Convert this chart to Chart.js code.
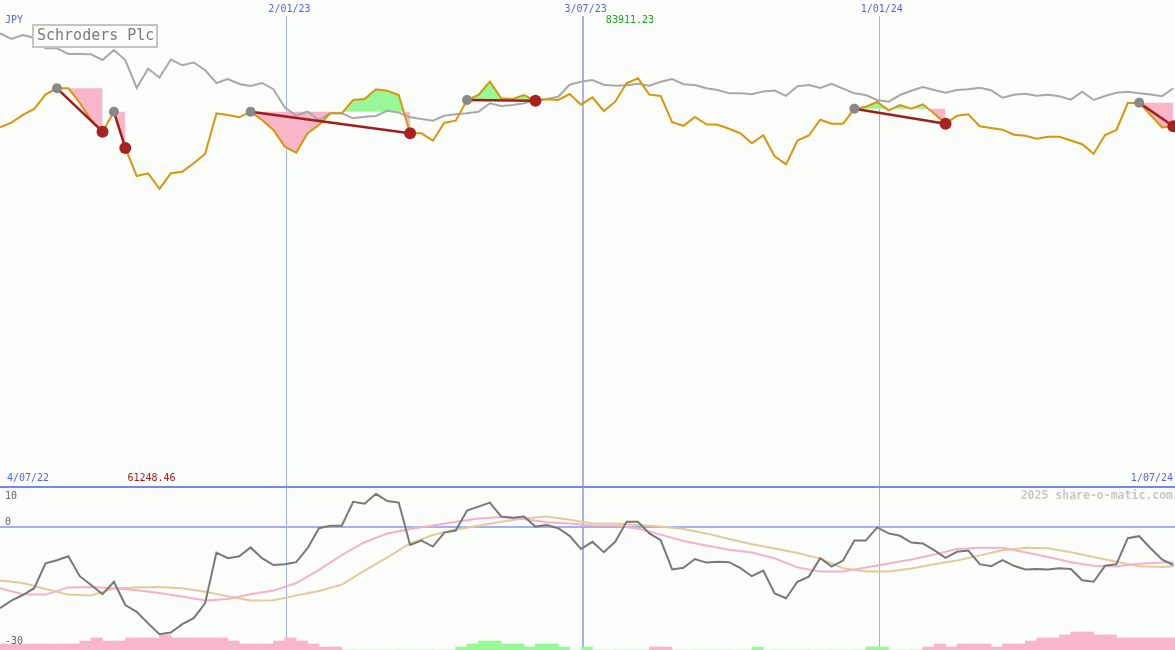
<!DOCTYPE html>
<html>
<head>
<meta charset="utf-8">
<title>Schroders Plc</title>
<script src="https://cdn.jsdelivr.net/npm/chart.js"></script>
<style>
  body { margin: 0; background: #fbfefb; }
  #wrap { position: relative; width: 1175px; height: 650px; }
</style>
</head>
<body>
<div id="wrap"><canvas id="myChart" width="1175" height="650"></canvas></div>
<script>
// weekly values, week 0 starts on 10 Jul 2022
var firstWeek = Date.UTC(2022, 6, 10);
var dateTicks = ['2/01/23', '3/07/23', '1/01/24'];
var startLabel = '4/07/22';
var endLabel = '1/07/24';

// share price (JPY)
var priceJPY = [
  73860, 74810, 76390, 77620, 80640, 81870, 81870, 78850, 75360, 72960,
  77060, 69610, 63860, 64420, 61248.46, 64420, 64740, 66470, 68380, 76740,
  76390, 75910, 77060, 75360, 73310, 69880, 68650, 72630, 74330, 76740,
  76740, 79470, 79670, 81660, 81380, 80490, 72630, 72630, 71110, 74810,
  75220, 79470, 80490, 83220, 79820, 79670, 80490, 79320, 79610, 79470,
  80700, 78500, 80020, 77210, 79120, 82900, 83911.23, 80560, 80290, 74890,
  74170, 75980, 74480, 74370, 73570, 72630, 70580, 72240, 67910, 66260,
  71150, 72180, 75420, 74600, 74600, 77660, 78090, 79060, 77350, 78440,
  77680, 78580, 76700, 74600, 76240, 76530, 74070, 73720, 73370, 72340,
  72120, 71520, 71910, 71910, 71150, 70390, 68440, 72280, 73310, 78850,
  78910, 76390, 73820, 74070
];

// market comparison line (grey)
var marketLine = [
  93160, 91990, 92810, 92260, 90080, 90080, 88910, 88910, 88850, 87680,
  89730, 87680, 81930, 85870, 84090, 87780, 86590, 87170, 85630, 82960,
  83780, 82750, 82340, 82960, 81680, 77930, 76280, 77060, 75360, 76740,
  76740, 75710, 76040, 76180, 77270, 76900, 75910, 75570, 75220, 76240,
  76530, 76740, 77060, 78790, 78240, 78440, 78790, 79470, 79670, 80140,
  82610, 83220, 83570, 82610, 82380, 82490, 82810, 82380, 83220, 83780,
  82710, 82550, 81870, 81520, 80840, 80840, 80640, 81210, 81420, 80330,
  82280, 82550, 81930, 82810, 81790, 80840, 80490, 79470, 79120, 80490,
  81360, 82140, 81520, 80970, 81520, 81680, 81970, 81460, 79920, 80530,
  80760, 80350, 80530, 80230, 79530, 81150, 79470, 80290, 80950, 81170,
  80840, 80600, 80250, 81870
];

// trades: week index of buy and sell
var tradeEntry = [5, 10, 22, 41, 75, 100];
var tradeExit = [9, 11, 36, 47, 83, 103];

// lower panel oscillator
var oscLine = [
  -20.3, -18.4, -17.0, -15.3, -9.1, -8.3, -7.3, -12.3, -14.5, -16.8,
  -13.7, -19.5, -21.2, -24.1, -26.8, -26.4, -24.3, -22.8, -19.1, -6.4,
  -7.8, -7.3, -5.1, -7.8, -9.5, -9.3, -8.8, -5.3, -0.3, 0.3,
  0.3, 6.3, 5.8, 8.3, 6.5, 6.1, -4.5, -3.4, -4.9, -1.4,
  -0.9, 4.1, 5.1, 6.1, 2.6, 2.3, 2.6, 0.1, 0.5, -0.3,
  -2.2, -5.5, -3.7, -6.3, -3.7, 1.3, 1.3, -1.6, -3.3, -10.6,
  -10.2, -8.0, -8.9, -8.7, -8.8, -10.3, -12.3, -10.9, -16.6, -17.8,
  -13.7, -12.4, -7.8, -9.9, -8.4, -3.4, -3.4, -0.1, -1.6, -2.2,
  -3.9, -4.1, -5.8, -7.7, -6.2, -5.9, -9.3, -9.8, -8.3, -9.7,
  -10.6, -10.5, -10.6, -10.3, -10.5, -13.3, -13.7, -9.7, -9.3, -2.8,
  -2.3, -5.3, -8.1, -9.5
];

// smoothed lines, read every second week
var smoothWeeks = [
  0, 2, 4, 6, 8, 10, 12, 14, 16, 18, 20, 22, 24, 26, 28, 30, 32, 34, 36, 38,
  40, 42, 44, 46, 48, 50, 52, 54, 56, 58, 60, 62, 64, 66, 68, 70, 72, 74, 76, 78,
  80, 82, 84, 86, 88, 90, 92, 94, 96, 98, 100, 102, 103
];
var pinkAvg = [
  -15.3, -16.8, -16.9, -15.1, -15.0, -15.3, -15.8, -16.5, -17.4, -18.4,
  -18.0, -16.8, -15.9, -14.0, -10.7, -7.0, -3.8, -1.6, -0.5, 0.4,
  1.3, 2.1, 2.5, 2.0, 1.2, 0.9, 0.4, 0.3, -0.4, -1.9,
  -3.5, -4.6, -5.7, -6.4, -7.8, -10.1, -11.1, -11.1, -10.1, -9.1,
  -8.1, -6.9, -5.5, -5.2, -5.2, -6.3, -7.5, -8.8, -9.7, -9.8,
  -9.2, -8.9, -8.9
];
var tanAvg = [
  -13.4, -14.0, -15.5, -16.9, -17.1, -15.4, -15.1, -15.0, -15.3, -16.2,
  -17.3, -18.4, -18.3, -17.1, -16.0, -14.4, -10.9, -7.6, -4.1, -2.0,
  -0.6, 0.3, 1.3, 2.1, 2.6, 1.8, 0.9, 0.9, 0.5, 0.1,
  -0.5, -1.6, -3.0, -4.3, -5.4, -6.5, -7.9, -10.3, -11.1, -11.1,
  -10.4, -9.3, -8.4, -7.1, -5.8, -5.2, -5.3, -6.3, -7.5, -8.7,
  -9.8, -10.0, -9.8
];

// bottom strip, negative = pink, positive = green
var barVals = [
  -2, -2, -2, -2, -2, -2, -2, -3, -4, -3,
  -3, -4, -4, -4, -5, -4, -4, -4, -4, -4,
  -3, -2, -2, -2, -3, -4, -3, -2, -1, -1,
  0, 0, 0, 0, 0, 0, 0, 0, 0, 0,
  1, 2, 3, 3, 2, 2, 1, 2, 2, 1,
  0, 1, 0, 0, 0, 0, 0, -1, -1, 0,
  0, 0, 0, 0, 0, 0, 1, 0, 0, 0,
  0, 0, 0, 0, 0, 0, 1, 1, 0, 0,
  0, -1, -2, -1, -2, -2, -2, -1, -2, -2,
  -3, -4, -4, -5, -6, -6, -5, -5, -4, -4,
  -4, -4, -4, -4
];

var PINK = '#f9b5c9';
var GREEN = '#98f898';
var BLUE_TXT = '#5064f0';
var MONO = '"DejaVu Sans Mono", "Liberation Mono", monospace';

function weekPos(label) {
  var p = label.split('/');
  var d = Date.UTC(2000 + parseInt(p[2]), parseInt(p[1]) - 1, parseInt(p[0]));
  return (d - firstWeek) / (7 * 864e5);
}

function pts(arr, xs) {
  return arr.map(function (v, i) { return { x: xs ? xs[i] : i, y: v }; });
}

var datasets = [];
datasets.push({
  data: pts(priceJPY), yAxisID: 'y', borderColor: '#d8960a', borderWidth: 2,
  pointRadius: 0, fill: false, order: 2
});
datasets.push({
  data: pts(marketLine), yAxisID: 'y', borderColor: '#a8a8a8', borderWidth: 2,
  pointRadius: 0, fill: false, order: 3
});

// profit / loss areas against the buy level
tradeEntry.forEach(function (e, t) {
  var lvl = [];
  for (var i = e; i <= tradeExit[t]; i++) lvl.push({ x: i, y: priceJPY[e] });
  datasets.push({
    data: lvl, yAxisID: 'y', borderColor: 'rgba(0,0,0,0)', borderWidth: 0,
    backgroundColor: PINK, pointRadius: 0,
    fill: { target: 0, above: PINK, below: GREEN }, order: 5
  });
});

// straight line from buy to sell
tradeEntry.forEach(function (e, t) {
  var s = tradeExit[t];
  datasets.push({
    data: [{ x: e, y: priceJPY[e] }, { x: s, y: priceJPY[s] }], yAxisID: 'y',
    borderColor: '#a11d1d', borderWidth: 2.5, pointRadius: 0, fill: false, order: 1
  });
});

datasets.push({
  data: tradeEntry.map(function (e) { return { x: e, y: priceJPY[e] }; }), yAxisID: 'y',
  showLine: false, pointRadius: 5, pointBackgroundColor: '#888888', pointBorderWidth: 0,
  order: 0, clip: false
});
datasets.push({
  data: tradeExit.map(function (e) { return { x: e, y: priceJPY[e] }; }), yAxisID: 'y',
  showLine: false, pointRadius: 6, pointBackgroundColor: '#a82222', pointBorderWidth: 0,
  order: 0, clip: false
});

datasets.push({
  data: pts(oscLine), yAxisID: 'y2', borderColor: '#787878', borderWidth: 2,
  pointRadius: 0, fill: false, order: 6
});
datasets.push({
  data: pts(pinkAvg, smoothWeeks), yAxisID: 'y2', borderColor: '#f8b0c8', borderWidth: 2,
  pointRadius: 0, fill: false, order: 7
});
datasets.push({
  data: pts(tanAvg, smoothWeeks), yAxisID: 'y2', borderColor: '#e2ca9c', borderWidth: 2,
  pointRadius: 0, fill: false, order: 8
});
datasets.push({
  type: 'bar',
  data: barVals.map(function (v, i) { return { x: i + 0.5, y: Math.abs(v) }; }),
  yAxisID: 'yb',
  backgroundColor: barVals.map(function (v) { return v < 0 ? PINK : GREEN; }),
  borderWidth: 0, barPercentage: 1, categoryPercentage: 1, order: 10
});

var decor = {
  id: 'decor',
  beforeDraw: function (chart) {
    var ctx = chart.ctx;
    ctx.save();
    ctx.fillStyle = '#fbfefb';
    ctx.fillRect(0, 0, chart.width, chart.height);
    ctx.restore();
  },
  beforeDatasetsDraw: function (chart) {
    var ctx = chart.ctx, x = chart.scales.x, y2 = chart.scales.y2;
    ctx.save();
    dateTicks.forEach(function (t, i) {
      var px = Math.round(x.getPixelForValue(weekPos(t)));
      ctx.strokeStyle = '#a4b0f2';
      ctx.lineWidth = i === 1 ? 2 : 1;
      ctx.beginPath();
      ctx.moveTo(i === 1 ? px : px + 0.5, 16);
      ctx.lineTo(i === 1 ? px : px + 0.5, chart.height);
      ctx.stroke();
    });
    ctx.lineWidth = 2;
    ctx.strokeStyle = '#7886ea';
    var sy = Math.round(y2.getPixelForValue(10));
    ctx.beginPath(); ctx.moveTo(0, sy); ctx.lineTo(chart.width, sy); ctx.stroke();
    ctx.strokeStyle = '#a4b0f2';
    var zy = Math.round(y2.getPixelForValue(0));
    ctx.beginPath(); ctx.moveTo(0, zy); ctx.lineTo(chart.width, zy); ctx.stroke();
    ctx.restore();
  },
  afterDatasetsDraw: function (chart) {
    var ctx = chart.ctx, x = chart.scales.x, y2 = chart.scales.y2;
    var sy = y2.getPixelForValue(10);
    ctx.save();
    ctx.textBaseline = 'middle';
    ctx.font = '10px ' + MONO;

    ctx.fillStyle = BLUE_TXT;
    ctx.textAlign = 'center';
    dateTicks.forEach(function (t) {
      ctx.fillText(t, x.getPixelForValue(weekPos(t)) + 3, 9);
    });
    ctx.textAlign = 'left';
    ctx.fillText('JPY', 5, 20);
    ctx.fillText(startLabel, 7, sy - 8.5);
    ctx.textAlign = 'right';
    ctx.fillText(endLabel, 1173, sy - 8.5);

    // max / min price labels
    var hi = priceJPY.indexOf(Math.max.apply(null, priceJPY));
    var lo = priceJPY.indexOf(Math.min.apply(null, priceJPY));
    ctx.textAlign = 'center';
    ctx.fillStyle = '#20a020';
    ctx.fillText(priceJPY[hi].toFixed(2), x.getPixelForValue(hi) - 8, 20);
    ctx.fillStyle = '#a01c1c';
    ctx.fillText(priceJPY[lo].toFixed(2), x.getPixelForValue(lo) - 8, sy - 8.5);

    // lower panel scale
    ctx.textAlign = 'left';
    ctx.fillStyle = '#666666';
    ctx.fillText('10', 5, y2.getPixelForValue(10) + 9);
    ctx.fillText('0', 5, y2.getPixelForValue(0) - 4.5);
    ctx.fillText('-30', 5, y2.getPixelForValue(-30) - 5.5);

    ctx.textAlign = 'right';
    ctx.fillStyle = '#c8c8c8';
    ctx.font = 'bold 11.5px ' + MONO;
    ctx.fillText('2025 share-o-matic.com', 1173, sy + 9);

    // name box
    ctx.fillStyle = '#fbfefb';
    ctx.fillRect(33, 25, 124, 22);
    ctx.strokeStyle = '#c4c4c4';
    ctx.lineWidth = 2;
    ctx.strokeRect(33, 25, 124, 22);
    ctx.fillStyle = '#7a7a7a';
    ctx.textAlign = 'left';
    ctx.font = '15px ' + MONO;
    ctx.fillText('Schroders Plc', 37, 36.5);
    ctx.restore();
  }
};

var ctx = document.getElementById('myChart').getContext('2d');
var chart = new Chart(ctx, {
  type: 'line',
  data: { datasets: datasets },
  options: {
    responsive: false,
    animation: false,
    events: [],
    devicePixelRatio: 1,
    layout: { padding: 0, autoPadding: false },
    elements: { line: { tension: 0 } },
    plugins: { legend: { display: false }, tooltip: { enabled: false } },
    scales: {
      x: { type: 'linear', min: 0, max: weekPos(endLabel), offset: false, display: false },
      y: { min: -33470, max: 100000, display: false },
      y2: { min: -30.75, max: 131.75, display: false },
      yb: { min: 0, max: 216.67, display: false }
    }
  },
  plugins: [decor]
});
</script>
</body>
</html>
